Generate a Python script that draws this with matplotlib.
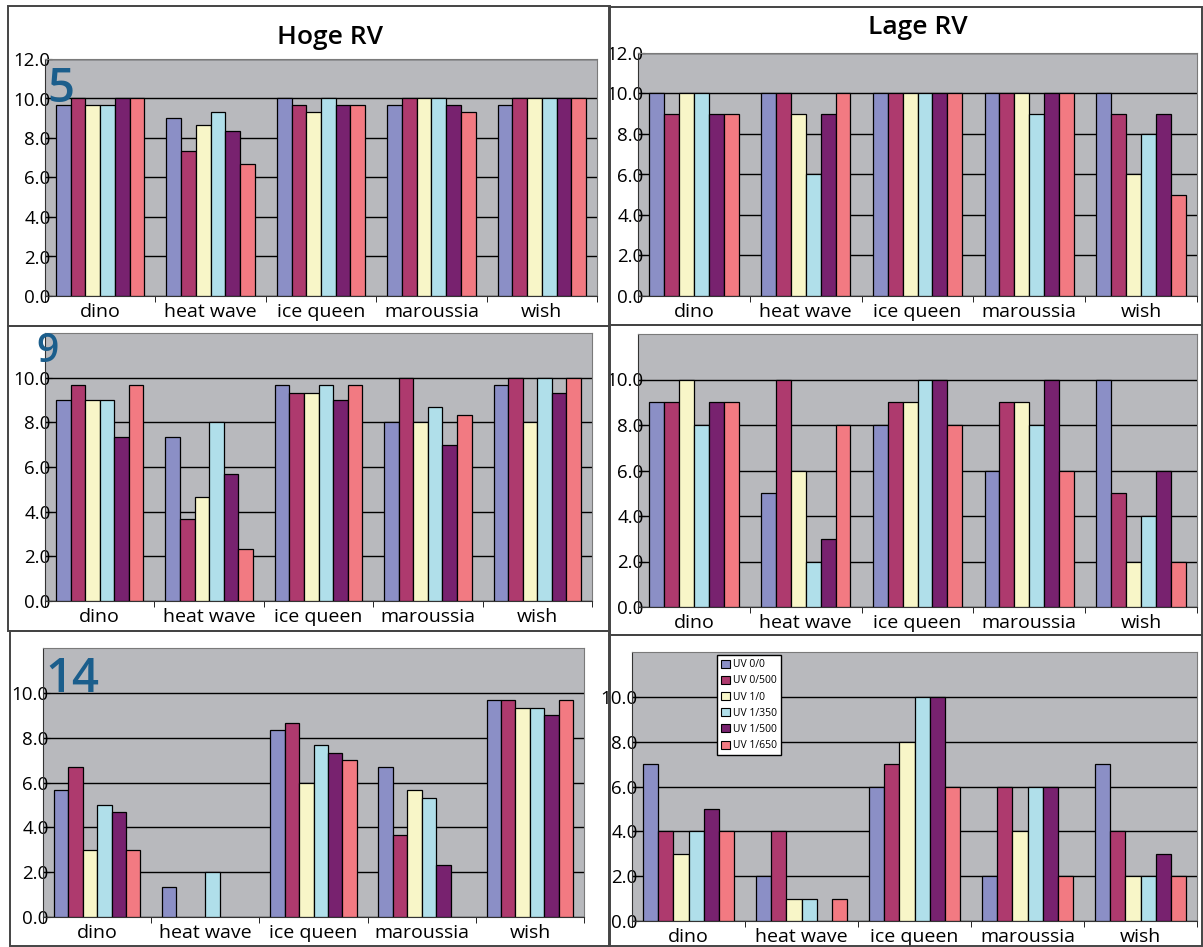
import numpy as np
import matplotlib.pyplot as plt
from matplotlib.patches import Rectangle, Patch

plt.rcParams['font.family'] = ['Open Sans', 'DejaVu Sans']

W, H = 1203, 947

films = ["dino", "heat wave", "ice queen", "maroussia", "wish"]
series = ["UV 0/0", "UV 0/500", "UV 1/0", "UV 1/350", "UV 1/500", "UV 1/650"]
colors = ["#8b8fc6", "#ae3a6e", "#f8f6c8", "#b0dfea", "#78226f", "#f27a82"]

# scores per film (rows) and UV treatment (columns)
hoge_5 = [[9.67, 10, 9.67, 9.67, 10, 10],
          [9.0, 7.33, 8.67, 9.33, 8.33, 6.67],
          [10, 9.67, 9.33, 10, 9.67, 9.67],
          [9.67, 10, 10, 10, 9.67, 9.33],
          [9.67, 10, 10, 10, 10, 10]]
lage_5 = [[10, 9, 10, 10, 9, 9],
          [10, 10, 9, 6, 9, 10],
          [10, 10, 10, 10, 10, 10],
          [10, 10, 10, 9, 10, 10],
          [10, 9, 6, 8, 9, 5]]
hoge_9 = [[9.0, 9.67, 9.0, 9.0, 7.33, 9.67],
          [7.33, 3.67, 4.67, 8.0, 5.67, 2.33],
          [9.67, 9.33, 9.33, 9.67, 9.0, 9.67],
          [8.0, 10, 8.0, 8.67, 7.0, 8.33],
          [9.67, 10, 8.0, 10, 9.33, 10]]
lage_9 = [[9, 9, 10, 8, 9, 9],
          [5, 10, 6, 2, 3, 8],
          [8, 9, 9, 10, 10, 8],
          [6, 9, 9, 8, 10, 6],
          [10, 5, 2, 4, 6, 2]]
hoge_14 = [[5.67, 6.67, 3.0, 5.0, 4.67, 3.0],
           [1.33, 0, 0, 2.0, 0, 0],
           [8.33, 8.67, 6.0, 7.67, 7.33, 7.0],
           [6.67, 3.67, 5.67, 5.33, 2.33, 0],
           [9.67, 9.67, 9.33, 9.33, 9.0, 9.67]]
lage_14 = [[7, 4, 3, 4, 5, 4],
           [2, 4, 1, 1, 0, 1],
           [6, 7, 8, 10, 10, 6],
           [2, 6, 4, 6, 6, 2],
           [7, 4, 2, 2, 3, 2]]


def rect(x0, y0, x1, y1):
    return [x0 / W, 1 - y1 / H, (x1 - x0) / W, (y1 - y0) / H]


def bars(ax, data, yticks):
    data = np.array(data)
    x = np.arange(len(films))
    w = 0.8 / len(series)
    ax.set_facecolor("#b8b9bd")
    for i in range(len(series)):
        vals = data[:, i]
        keep = vals > 0
        ax.bar((x + (i - 2.5) * w)[keep], vals[keep], w, color=colors[i],
               edgecolor="black", linewidth=0.9, zorder=3)
    ax.set_xlim(-0.5, 4.5)
    ax.set_ylim(0, 12)
    ax.set_yticks(yticks)
    ax.set_yticklabels(["%.1f" % t for t in yticks], fontsize=13.5)
    ax.yaxis.grid(True, color="black", linewidth=1.0, zorder=1)
    ax.set_axisbelow(True)
    ax.set_xticks(x)
    ax.set_xticklabels(films, fontsize=14)
    ax.set_xticks(np.arange(-0.5, 5), minor=True)
    ax.tick_params(axis="x", which="major", length=0, pad=5)
    ax.tick_params(axis="x", which="minor", length=4, direction="out")
    ax.tick_params(axis="y", length=5, direction="in", pad=-4)
    for s in ["top", "right"]:
        ax.spines[s].set_color("#7a7a7a")
    for s in ["left", "bottom"]:
        ax.spines[s].set_color("#333333")


fig = plt.figure(figsize=(W / 100, H / 100), dpi=100)

# panel frames
for x0, y0, x1, y1 in [(8, 6, 610, 326), (609, 7, 1202, 325),
                       (8, 326, 610, 631), (609, 325, 1202, 635),
                       (10, 631, 610, 946), (609, 635, 1202, 946)]:
    fig.add_artist(Rectangle((x0 / W, 1 - y1 / H), (x1 - x0) / W, (y1 - y0) / H,
                             transform=fig.transFigure, fill=False,
                             edgecolor="#444444", linewidth=1.4))

full = np.arange(0, 13, 2)
short = np.arange(0, 11, 2)
panels = [(hoge_5, (45, 59, 597, 296), full),
          (lage_5, (638, 53, 1197, 296), full),
          (hoge_9, (45, 333, 592, 601), short),
          (lage_9, (638, 334, 1197, 607), short),
          (hoge_14, (43, 648, 584, 917), short),
          (lage_14, (632, 652, 1197, 921), short)]
axes = []
for data, box, ticks in panels:
    ax = fig.add_axes(rect(*box))
    bars(ax, data, ticks)
    axes.append(ax)

fig.text(330 / W, 1 - 37 / H, "Hoge RV", fontsize=19, fontweight="semibold",
         ha="center", va="center")
fig.text(918 / W, 1 - 27 / H, "Lage RV", fontsize=19, fontweight="semibold",
         ha="center", va="center")

# run number in the corner of each left-hand panel
for ax, lbl, dx, dy, fs in zip([axes[0], axes[2], axes[4]], ["5", "9", "14"],
                               [0.005, -0.016, 0.005], [0.97, 1.005, 0.97],
                               [34, 28, 34]):
    ax.text(dx, dy, lbl, transform=ax.transAxes, fontsize=fs,
            fontweight="semibold", color="#1b5e8c", ha="left", va="top",
            zorder=5)

handles = [Patch(facecolor=c, edgecolor="black", linewidth=0.8) for c in colors]
axes[5].legend(handles, series, loc="upper left",
               bbox_to_anchor=(717 / W, 1 - 655 / H),
               bbox_transform=fig.transFigure, fontsize=7.5, frameon=True,
               fancybox=False, edgecolor="black", framealpha=1,
               handlelength=0.8, handleheight=0.8, handletextpad=0.3,
               labelspacing=0.5, borderpad=0.4, borderaxespad=0)

fig.savefig("out.png", dpi=100)
